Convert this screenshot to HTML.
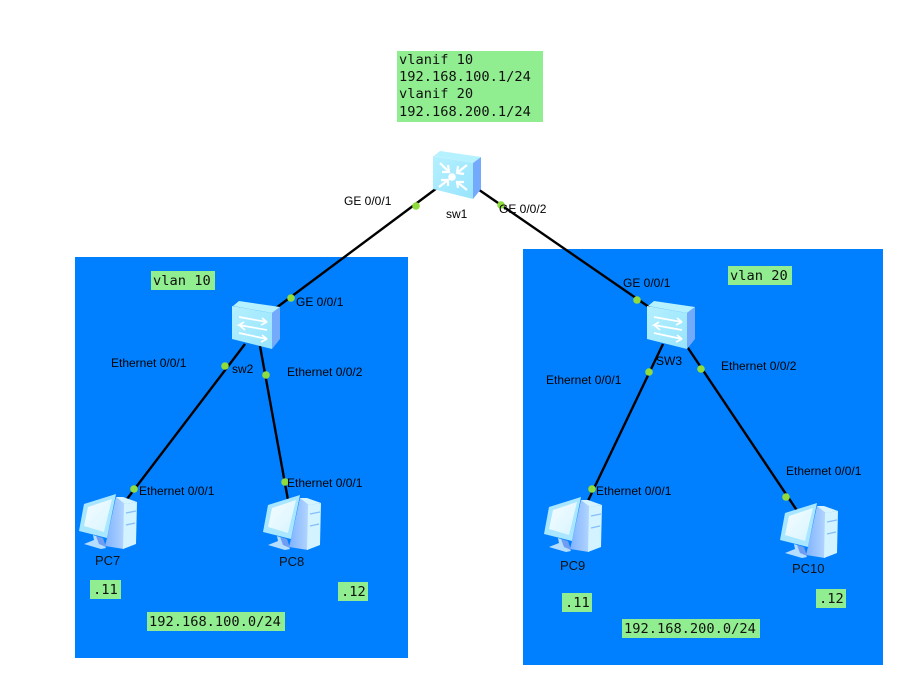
<!DOCTYPE html>
<html><head><meta charset="utf-8"><style>
html,body{margin:0;padding:0;background:#fff;width:924px;height:681px;overflow:hidden}
svg{display:block}
.m{font-family:"DejaVu Sans Mono","Liberation Mono",monospace;font-size:13.7px;fill:#111}
.s{font-family:"Liberation Sans",sans-serif;font-size:12px;fill:#000}
.n{font-family:"Liberation Sans",sans-serif;font-size:13px;fill:#111}
.l{stroke:#000;stroke-width:2.4;fill:none}
.d{fill:#90dc3c}
.g{fill:#90ee90}
</style></head><body>
<svg width="924" height="681" viewBox="0 0 924 681" xmlns="http://www.w3.org/2000/svg">
<defs>
<linearGradient id="f" x1="0" y1="0" x2="1" y2="1"><stop offset="0" stop-color="#b4f0ff"/><stop offset="1" stop-color="#98e4fd"/></linearGradient>
<linearGradient id="tw" x1="0" y1="0" x2="1" y2="0"><stop offset="0" stop-color="#7fb2ff"/><stop offset="1" stop-color="#b4d6ff"/></linearGradient>
<linearGradient id="mn" x1="0" y1="0" x2="1" y2="1"><stop offset="0" stop-color="#f4fdff"/><stop offset="1" stop-color="#d8f4ff"/></linearGradient>
<g id="pc">
<path d="M28 44 L37 3 L46 9 L45 55 L26 52Z" fill="url(#tw)"/>
<path d="M37 3 L44 3 L58 8 L46 10Z" fill="#d6f4ff"/>
<path d="M45 10 L58 8 L57 50 L44 55Z" fill="#d2f3ff"/>
<path d="M47 19 L57 17 M47 31 L56 29" stroke="#86bdfb" stroke-width="1.3"/>
<path d="M5 10 L37 0 L28 44 L0 37Z" fill="#a9e6ff"/>
<path d="M9 13 L33 5 L25 38 L5 32Z" fill="url(#mn)"/>
<path d="M14 41 L20 43 L23 47 L27 54 L22 55 L5 50 L15 46Z" fill="#b4ddff"/>
<path d="M17 42 L24 44 L27 53 L20 50Z" fill="#6f9df2"/>
</g>
<g id="box">
<path d="M1 6 L7 1 L48 7 L40 13Z" fill="#b6f1ff"/>
<path d="M0 6 L40 13 L40 49 L0 39Z" fill="url(#f)"/>
<path d="M40 13 L48 7 L48 39 L40 49Z" fill="#74aafc"/>
</g>
<g id="arr" stroke="#fff" stroke-width="1.7" fill="none">
<path d="M7 17 L35 22 L30 18 M35 22 L29 25"/>
<path d="M35 30 L7 25 L12 22 M7 25 L13 30"/>
<path d="M7 33 L35 39 L30 35 M35 39 L29 42"/>
</g>
</defs>

<rect x="75" y="257" width="333" height="401" fill="#0080ff"/>
<rect x="523" y="249" width="360" height="416" fill="#0080ff"/>

<path class="l" d="M437 188 L276 308"/>
<path class="l" d="M472 185 L662 316"/>
<path class="l" d="M245 344 L127 499"/>
<path class="l" d="M260 346 L288 500"/>
<path class="l" d="M663 344 L586 505"/>
<path class="l" d="M686 345 L800 515"/>

<circle class="d" cx="416" cy="206" r="3.8"/>
<circle class="d" cx="501" cy="205" r="3.8"/>
<circle class="d" cx="291" cy="298" r="3.8"/>
<circle class="d" cx="637" cy="300" r="3.8"/>
<circle class="d" cx="225" cy="366" r="3.8"/>
<circle class="d" cx="266" cy="375" r="3.8"/>
<circle class="d" cx="649" cy="372" r="3.8"/>
<circle class="d" cx="701" cy="369" r="3.8"/>
<circle class="d" cx="134" cy="489" r="3.8"/>
<circle class="d" cx="285" cy="482" r="3.8"/>
<circle class="d" cx="592" cy="489" r="3.8"/>
<circle class="d" cx="786" cy="497" r="3.8"/>

<!-- sw1 -->
<g transform="translate(433,150)">
<use href="#box"/>
<g stroke="#fff" stroke-width="2.2" fill="none">
<path d="M7 13 L16 22 M9 22 L16 22 L15 15"/>
<path d="M34 15 L24 23 M25 16 L24 23 L31 24"/>
<path d="M6 37 L15 30 M15 36 L15 30 L8 30"/>
<path d="M34 40 L24 32 M25 38 L24 32 L31 32"/>
</g>
<circle cx="19" cy="27" r="3.8" fill="#fff"/>
</g>

<!-- sw2 -->
<g transform="translate(232,300)"><use href="#box"/><use href="#arr"/></g>
<!-- sw3 -->
<g transform="translate(647,300)"><use href="#box"/><use href="#arr"/></g>

<use href="#pc" transform="translate(79,494)"/>
<use href="#pc" transform="translate(263,495)"/>
<use href="#pc" transform="translate(544,497)"/>
<use href="#pc" transform="translate(780,503)"/>

<!-- green labels -->
<rect class="g" x="397" y="51" width="146" height="71"/>
<text class="m" x="399" y="64">vlanif 10</text>
<text class="m" x="399" y="81">192.168.100.1/24</text>
<text class="m" x="399" y="98">vlanif 20</text>
<text class="m" x="399" y="116">192.168.200.1/24</text>

<rect class="g" x="151" y="271" width="64" height="19"/>
<text class="m" x="153" y="285">vlan 10</text>
<rect class="g" x="728" y="266" width="64" height="19"/>
<text class="m" x="730" y="280">vlan 20</text>

<rect class="g" x="90" y="580" width="31" height="19"/>
<text class="m" x="93" y="594">.11</text>
<rect class="g" x="338" y="582" width="30" height="19"/>
<text class="m" x="341" y="596">.12</text>
<rect class="g" x="562" y="593" width="30" height="19"/>
<text class="m" x="565" y="607">.11</text>
<rect class="g" x="816" y="589" width="30" height="19"/>
<text class="m" x="819" y="603">.12</text>

<rect class="g" x="147" y="612" width="138" height="19"/>
<text class="m" x="149" y="626">192.168.100.0/24</text>
<rect class="g" x="622" y="619" width="138" height="19"/>
<text class="m" x="624" y="633">192.168.200.0/24</text>

<!-- interface labels -->
<text class="s" x="344" y="205">GE 0/0/1</text>
<text class="s" x="499" y="213">GE 0/0/2</text>
<text class="s" x="296" y="306">GE 0/0/1</text>
<text class="s" x="623" y="287">GE 0/0/1</text>
<text class="s" x="111" y="367">Ethernet 0/0/1</text>
<text class="s" x="287" y="376">Ethernet 0/0/2</text>
<text class="s" x="546" y="384">Ethernet 0/0/1</text>
<text class="s" x="721" y="370">Ethernet 0/0/2</text>
<text class="s" x="139" y="495">Ethernet 0/0/1</text>
<text class="s" x="287" y="487">Ethernet 0/0/1</text>
<text class="s" x="596" y="495">Ethernet 0/0/1</text>
<text class="s" x="786" y="475">Ethernet 0/0/1</text>

<!-- device names -->
<text class="s" x="446" y="218">sw1</text>
<text class="s" x="232" y="373">sw2</text>
<text class="s" x="656" y="365">SW3</text>
<text class="n" x="95" y="565">PC7</text>
<text class="n" x="279" y="566">PC8</text>
<text class="n" x="560" y="570">PC9</text>
<text class="n" x="792" y="573">PC10</text>
</svg>
</body></html>
